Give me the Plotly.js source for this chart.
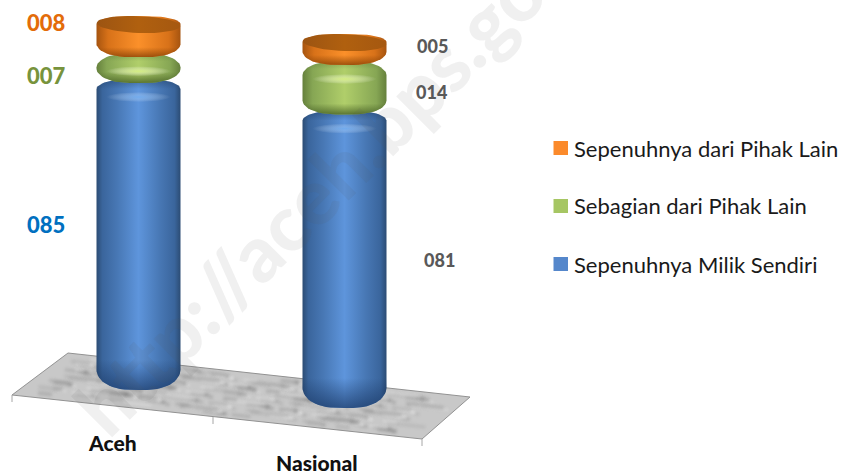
<!DOCTYPE html>
<html>
<head>
<meta charset="utf-8">
<script src="https://cdn.plot.ly/plotly-3.0.1.min.js"></script>
<style>
html,body{margin:0;padding:0;background:#fff}
#chart{width:845px;height:472px}
.layer-below .shapelayer path{filter:blur(1.5px)}
.layer-below .shapelayer path[data-index="0"],.layer-below .shapelayer [data-index="0"] path{filter:none}
</style>
</head>
<body>
<div id="chart"></div>
<script>
// Status of ownership, percent of households, stacked per region
const categories = ['Aceh', 'Nasional'];
const milikSendiri = [85, 81];
const sebagian = [7, 14];
const pihakLain = [8, 5];
const seriesNames = ['Sepenuhnya Milik Sendiri', 'Sebagian dari Pihak Lain', 'Sepenuhnya dari Pihak Lain'];
const tickLabelColors = ['#0070c0', '#77933c', '#e36c09'];
const swatchColors = ['#5587cb', '#a6c663', '#fb8a2b'];

// Plot scale: the whole page is the plot area
const W = 845, H = 472, PX_UNIT = 3.4, PX_CAT = 206, ORIGIN_X = 138.5, ORIGIN_Y = 373;
const X = p => (p - ORIGIN_X) / PX_CAT;
const Y = p => (ORIGIN_Y - p) / PX_UNIT;
const px = p => p / PX_UNIT;               // vertical pixels to value units
const catX = [0, 1];
const catBase = [0, -5.3];                 // the second column stands further forward on the floor
const HALF = 42 / PX_CAT;

const looks = [
  { extTop: 5, arcTop: 10, extBot: 17, arcBot: 20,
    side: [[0,'#2c4c74'],[.07,'#3a659c'],[.25,'#4878b5'],[.5,'#5e95dc'],[.75,'#4878b5'],[.93,'#3a659c'],[1,'#2c4c74']],
    shadeTop: 'rgba(30,60,100,.5)', shadeBot: 'rgba(25,55,100,.7)', topPx: 10, botPx: 30,
    glow: 'rgba(125,185,250,.6)', glowAt: 18, glowRx: 30, glowRy: 2 },
  { extTop: 7, arcTop: 14, extBot: -1, arcBot: 14,
    side: [[0,'#65803c'],[.12,'#86a654'],[.5,'#b0ce6a'],[.88,'#86a654'],[1,'#65803c']],
    shadeTop: 'rgba(85,115,50,.4)', shadeBot: 'rgba(70,95,35,.8)', topPx: 8, botPx: 11,
    glow: 'rgba(215,240,130,.9)', glowAt: 18, glowRx: 30, glowRy: 2 },
  { extTop: 17, arcTop: 8, extBot: -3, arcBot: 13,
    side: [[0,'#a6540f'],[.14,'#d87219'],[.5,'#fb902a'],[.86,'#d87219'],[1,'#a6540f']],
    shadeTop: 'rgba(0,0,0,0)', shadeBot: 'rgba(135,65,5,.8)', topPx: 2, botPx: 10 }
];

// Closed outline of one stacked segment with rounded ends
function outline(cx, lo, hi, look) {
  const top = hi + px(look.extTop), bot = lo - px(look.extBot);
  const xs = [], ys = [], N = 30, e = .7;
  for (let i = 0; i <= N; i++) {
    const t = Math.PI * i / N, c = Math.cos(t), s = Math.sin(t);
    xs.push(cx - HALF * Math.sign(c) * Math.pow(Math.abs(c), e));
    ys.push(top - px(look.arcTop) * (1 - Math.pow(s, 1.1)));
  }
  for (let i = 0; i <= N; i++) {
    const t = Math.PI * i / N, c = Math.cos(t), s = Math.sin(t);
    xs.push(cx + HALF * Math.sign(c) * Math.pow(Math.abs(c), e));
    ys.push(bot + px(look.arcBot) * (1 - Math.pow(s, 1.1)));
  }
  xs.push(xs[0]); ys.push(ys[0]);
  return { xs, ys, top, bot };
}

function ellipse(cx, cy, rx, ry, tilt) {
  const xs = [], ys = [];
  for (let i = 0; i <= 48; i++) {
    const t = 2 * Math.PI * i / 48, dx = rx * Math.cos(t);
    xs.push(cx + dx);
    ys.push(cy + ry * Math.sin(t) - (tilt || 0) * dx / rx);
  }
  return { xs, ys };
}

const area = (xs, ys, fillgradient) => ({
  type: 'scatter', mode: 'lines', x: xs, y: ys, fill: 'toself',
  line: { width: 0 }, fillgradient, hoverinfo: 'skip', showlegend: false
});

const stacks = [milikSendiri, sebagian, pihakLain];
const traces = [];
stacks.forEach((values, s) => {
  const look = looks[s];
  values.forEach((v, c) => {
    let lo = catBase[c];
    for (let k = 0; k < s; k++) lo += stacks[k][c];
    const hi = lo + v, cx = catX[c];
    const o = outline(cx, lo, hi, look);
    traces.push(area(o.xs, o.ys, { type: 'horizontal', colorscale: look.side }));

    // shading towards the upper and lower rims
    const span = o.top - o.bot, a = px(look.botPx) / span, b = px(look.topPx) / span;
    const clear = 'rgba(255,255,255,0)';
    traces.push(area(o.xs, o.ys, {
      type: 'vertical', start: o.bot, stop: o.top,
      colorscale: [[0, look.shadeBot], [a, look.shadeBot.replace(/[\d.]+\)$/, '0)')], [1 - b, look.shadeTop.replace(/[\d.]+\)$/, '0)')], [1, look.shadeTop]]
    }));

    if (look.glow) {
      const g = ellipse(cx, o.top - px(look.glowAt), 32 / PX_CAT, px(look.glowRy + 3));
      traces.push(area(g.xs, g.ys, { type: 'radial', colorscale: [[0, look.glow], [1, clear]] }));
    }
    if (s === 2) {
      // darker upper face of the top disc
      const f = ellipse(cx, o.top - px(8.5), HALF * .995, px(8.5), px(1.5));
      traces.push(area(f.xs, f.ys, { type: 'horizontal', colorscale: [[0,'#9c5412'],[.5,'#b0600f'],[1,'#a55810']] }));
    }
  });
});

// Floor plane and its tick marks
const paperX = p => p / W, paperY = p => 1 - p / H;
const floor = [[12, 395], [68, 353], [470, 397], [422, 439]];
const pathOf = pts => 'M' + pts.map(q => paperX(q[0]) + ' ' + paperY(q[1])).join('L') + 'Z';
const shapes = [{
  type: 'path', xref: 'paper', yref: 'paper', layer: 'below', path: pathOf(floor),
  fillcolor: '#c8c8c8', line: { color: '#929292', width: 1 }
}];
// Marble mottling laid along the floor, evenly scattered with golden-ratio steps
for (let i = 1; i <= 260; i++) {
  const u = (i * 0.61803) % 1, v = (i * 0.75488) % 1, d = i % 9 === 0 ? .42 : (i % 2 ? .12 : .2);
  const lerp = (p, q, t) => [p[0] + (q[0] - p[0]) * t, p[1] + (q[1] - p[1]) * t];
  const a = lerp(floor[0], floor[1], .07 + v * .86), b = lerp(floor[3], floor[2], .07 + v * .86);
  const start = lerp(a, b, .03 + u * .9), end = lerp(a, b, .03 + u * .9 + .01 + (i % 5) * .012);
  shapes.push({
    type: 'line', xref: 'paper', yref: 'paper', layer: 'below',
    x0: paperX(start[0]), y0: paperY(start[1]), x1: paperX(end[0]), y1: paperY(end[1]),
    line: { color: i % 3 === 0 ? 'rgba(238,238,238,.45)' : 'rgba(85,85,85,' + d + ')', width: 2 + i % 3 }
  });
}
[[12, 395, 402], [213, 417, 424], [422, 439, 446]].forEach(t => shapes.push({
  type: 'line', xref: 'paper', yref: 'paper', layer: 'above',
  x0: paperX(t[0]), x1: paperX(t[0]), y0: paperY(t[1]), y1: paperY(t[2]),
  line: { color: '#a6a6a6', width: 1 }
}));

// Legend, top entry first
const legendRows = [148, 206, 264];
[2, 1, 0].forEach((s, i) => shapes.push({
  type: 'rect', xref: 'paper', yref: 'paper', layer: 'above',
  x0: paperX(553.5), x1: paperX(568), y0: paperY(legendRows[i] - 7), y1: paperY(legendRows[i] + 7),
  fillcolor: swatchColors[s], line: { width: 0 }
}));
const note = (x, y, text, size, color, weight, extra) => Object.assign({
  xref: 'paper', yref: 'paper', x: paperX(x), y: paperY(y), xanchor: 'center', yanchor: 'middle',
  text, showarrow: false,
  font: { family: 'Lato, sans-serif', size, color, weight }
}, extra || {});
const annotations = [];
[2, 1, 0].forEach((s, i) => annotations.push(note(572, legendRows[i], seriesNames[s], 22, '#1a1a1a', 400, { xanchor: 'left' })));

// Value labels
const pad = v => String(v).padStart(3, '0');
const acehLabelY = [224, 75, 23], acehLabelX = 46;
const nasLabelY = [260, 92, 46], nasLabelX = [439, 432, 432];
stacks.forEach((values, s) => {
  annotations.push(note(acehLabelX, acehLabelY[s], pad(values[0]), 22, tickLabelColors[s], 900));
  annotations.push(note(nasLabelX[s], nasLabelY[s], pad(values[1]), 18, '#595959', 900));
});

// Category labels
annotations.push(note(112, 442, categories[0], 21, '#111', 900));
annotations.push(note(317, 462, categories[1], 21, '#111', 900));

// Site address running diagonally across the figure
annotations.push(note(338, 169, 'http://aceh.bps.go.id', 78, 'rgba(90,90,90,.09)', 900, { textangle: -45 }));

Plotly.newPlot('chart', traces, {
  width: W, height: H, margin: { l: 0, r: 0, t: 0, b: 0 },
  paper_bgcolor: '#fff', plot_bgcolor: 'rgba(0,0,0,0)', showlegend: false,
  xaxis: { range: [X(0), X(W)], visible: false, fixedrange: true },
  yaxis: { range: [Y(H), Y(0)], visible: false, fixedrange: true },
  shapes, annotations
}, { displayModeBar: false, staticPlot: true });
</script>
</body>
</html>
